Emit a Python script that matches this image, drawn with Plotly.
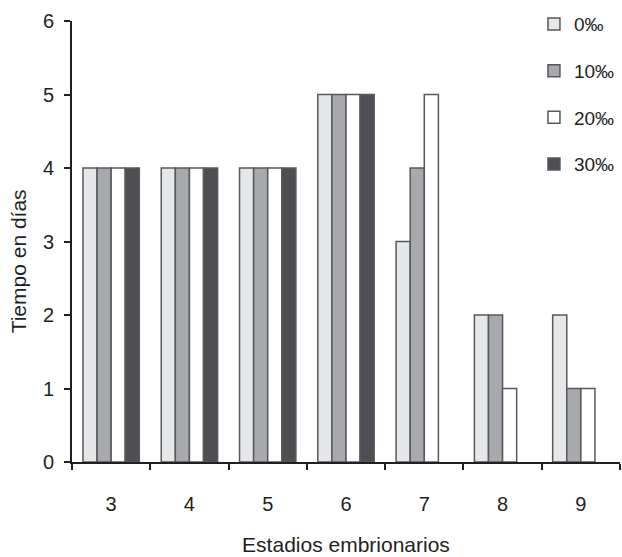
import plotly.graph_objects as go

categories = ["3", "4", "5", "6", "7", "8", "9"]
series_names = ["0‰", "10‰", "20‰", "30‰"]
s0 = [4, 4, 4, 5, 3, 2, 2]
s10 = [4, 4, 4, 5, 4, 2, 1]
s20 = [4, 4, 4, 5, 5, 1, 1]
s30 = [4, 4, 4, 5, None, None, None]
y_ticks = [0, 1, 2, 3, 4, 5, 6]

colors = ["#e6e7e9", "#a7a9ac", "#ffffff", "#4d4e52"]
line_color = "#58595b"

fig = go.Figure()
for i, (name, vals) in enumerate(zip(series_names, [s0, s10, s20, s30])):
    fig.add_trace(go.Bar(
        x=categories, y=vals, name=name, legendgroup=name,
        marker=dict(color=colors[i], line=dict(color=line_color, width=1.5)),
    ))

font = "Liberation Sans, Arial, sans-serif"
fig.update_layout(
    width=622, height=557,
    margin=dict(l=72, r=2, t=21, b=95, autoexpand=False),
    paper_bgcolor="white", plot_bgcolor="white",
    barmode="group", bargap=0.28, bargroupgap=0,
    font=dict(family=font, size=20, color="#231f20"),
    showlegend=True,
    legend=dict(x=0.843, xanchor="left", y=1.036, yanchor="top",
                tracegroupgap=19, font=dict(size=19),
                bgcolor="rgba(0,0,0,0)", itemwidth=30),
    xaxis=dict(
        type="category", showline=True, linecolor="#231f20", linewidth=2,
        ticks="outside", tickson="boundaries", ticklen=6, tickcolor="#231f20",
        tickwidth=1.5, ticklabelstandoff=23, showgrid=False, automargin=False,
        title=dict(text="Estadios embrionarios", font=dict(size=21), standoff=23),
    ),
    yaxis=dict(
        range=[0, 6], tickvals=y_ticks, showline=True, linecolor="#231f20",
        linewidth=2, ticks="outside", ticklen=6, tickcolor="#231f20",
        tickwidth=1.5, showgrid=False, zeroline=False, ticklabelstandoff=6,
        automargin=False,
    ),
    annotations=[dict(
        text="Tiempo en días", textangle=-90, xref="paper", x=0, xshift=-54,
        yref="y", y=2.73, xanchor="center", yanchor="middle", showarrow=False,
        font=dict(size=21, family=font, color="#231f20"),
    )],
)

fig.write_html(
    "out.html",
    config={"displayModeBar": False},
    post_script="document.body.style.margin='0';document.body.style.overflow='hidden';",
)
